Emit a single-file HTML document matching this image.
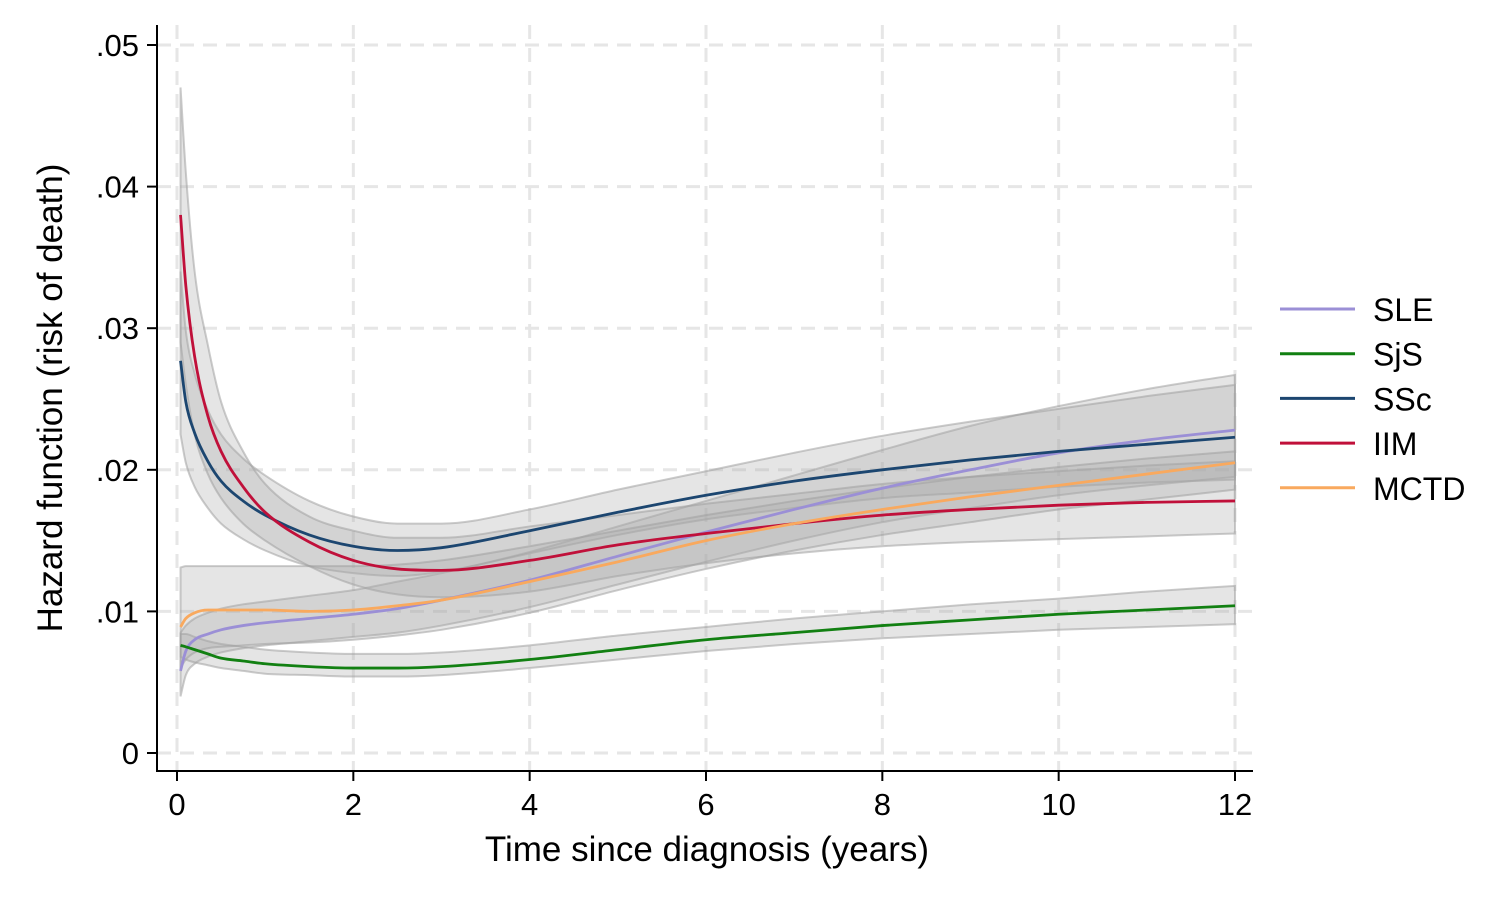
<!DOCTYPE html>
<html><head><meta charset="utf-8">
<style>
html,body{margin:0;padding:0;background:#fff;}
svg{display:block;font-family:"Liberation Sans",Arial,sans-serif;}
</style></head>
<body>
<svg id="chart" width="1486" height="897" viewBox="0 0 1486 897" xmlns="http://www.w3.org/2000/svg">
  <rect x="0" y="0" width="1486" height="897" fill="#fff"/>
  <g id="grid"></g>
  <g id="bands"></g>
  <g id="lines"></g>
  <g id="axes"></g>
  <text x="707" y="861" text-anchor="middle" font-size="35" fill="#000">Time since diagnosis (years)</text>
  <text transform="translate(62,398) rotate(-90)" text-anchor="middle" font-size="35" fill="#000">Hazard function (risk of death)</text>
  <g id="legend"></g>
</svg>
<script>
const xTicks = [0, 2, 4, 6, 8, 10, 12];
const yTicks = [0, 0.01, 0.02, 0.03, 0.04, 0.05];
const yTickLabels = ["0", ".01", ".02", ".03", ".04", ".05"];
const times = [0.04,0.1,0.2,0.35,0.5,0.75,1,1.5,2,2.5,3,4,5,6,7,8,9,10,11,12];
const seriesNames = ["SLE","SjS","SSc","IIM","MCTD"];
const seriesColors = ["#9b8fd6","#128012","#1c4670","#c0103a","#f9a95e"];
const sleHaz = [.0058,.0072,.008,.0084,.0087,.009,.0092,.0095,.0098,.0102,.0108,.0122,.0139,.0156,.0172,.0187,.02,.0212,.0221,.0228];
const sleHi  = [.0085,.009,.0095,.0099,.0102,.0105,.0107,.0111,.0115,.0121,.0127,.0142,.016,.0178,.0196,.0214,.0231,.0245,.0257,.0267];
const sleLo  = [.004,.0055,.0063,.0068,.0071,.0074,.0076,.0079,.0082,.0085,.009,.0103,.0119,.0135,.015,.0163,.0173,.0182,.0189,.0195];
const sjsHaz = [.0076,.0075,.0073,.007,.0067,.0065,.0063,.0061,.006,.006,.0061,.0066,.0073,.008,.0085,.009,.0094,.0098,.0101,.0104];
const sjsHi  = [.0084,.0084,.0082,.0079,.0077,.0075,.0073,.0071,.007,.007,.0071,.0076,.0083,.0089,.0095,.01,.0105,.0109,.0114,.0118];
const sjsLo  = [.0068,.0066,.0064,.0062,.006,.0058,.0056,.0055,.0054,.0054,.0055,.006,.0066,.0072,.0077,.0081,.0084,.0087,.0089,.0091];
const sscHaz = [.0277,.0248,.0226,.0206,.0192,.0178,.0168,.0154,.0146,.0143,.0145,.0157,.017,.0182,.0192,.02,.0207,.0213,.0218,.0223];
const sscHi  = [.034,.0298,.0268,.0242,.0225,.0208,.0196,.0178,.0167,.0162,.0162,.0172,.0186,.0199,.0212,.0224,.0234,.0243,.0252,.026];
const sscLo  = [.0225,.0205,.0188,.0173,.0162,.0151,.0143,.0132,.0127,.0125,.0128,.0141,.0154,.0165,.0173,.018,.0184,.0188,.0191,.0193];
const iimHaz = [.038,.033,.028,.0238,.0213,.0188,.017,.0149,.0136,.013,.0129,.0136,.0147,.0155,.0162,.0168,.0172,.0175,.0177,.0178];
const iimHi  = [.047,.041,.034,.0288,.0248,.0213,.019,.0167,.0157,.0152,.0152,.016,.0168,.0176,.0183,.019,.0195,.0199,.0203,.0206];
const iimLo  = [.029,.026,.0225,.0197,.018,.0162,.015,.0132,.0119,.0112,.011,.0114,.0125,.0134,.0141,.0146,.0149,.0151,.0153,.0155];
const mctdHaz = [.0089,.0095,.0099,.0101,.0101,.0101,.0101,.01,.0101,.0104,.0108,.0121,.0135,.015,.0162,.0172,.0181,.0189,.0197,.0205];
const mctdHi  = [.0131,.0132,.0132,.0132,.0132,.0132,.0132,.0132,.0132,.0133,.0136,.0146,.0157,.0168,.0178,.0187,.0195,.0202,.0208,.0213];
const mctdLo  = [.006,.0066,.0071,.0074,.0075,.0076,.0077,.0078,.008,.0083,.0087,.0099,.0115,.013,.0143,.0154,.0163,.0172,.0179,.0186];

const NS = "http://www.w3.org/2000/svg";
const X0 = 177, X1 = 1235, Y0 = 753, Y1 = 45;
const L = 157, R = 1253, T = 25, B = 771;
function sx(t){ return X0 + (t - 0) / 12 * (X1 - X0); }
function sy(v){ return Y0 - v / 0.05 * (Y0 - Y1); }
function mk(tag, attrs, parent){ const e = document.createElementNS(NS, tag); for (const k in attrs) e.setAttribute(k, attrs[k]); parent.appendChild(e); return e; }

function monoPath(xs, ys, move){
  const n = xs.length, d = [], m = [];
  for (let i=0;i<n-1;i++) d.push((ys[i+1]-ys[i])/(xs[i+1]-xs[i]));
  m[0]=d[0]; m[n-1]=d[n-2];
  for (let i=1;i<n-1;i++){ m[i] = (d[i-1]*d[i] <= 0) ? 0 : (d[i-1]+d[i])/2; }
  for (let i=0;i<n-1;i++){
    if (d[i]===0){ m[i]=0; m[i+1]=0; continue; }
    const a=m[i]/d[i], b=m[i+1]/d[i], s=a*a+b*b;
    if (s>9){ const tt=3/Math.sqrt(s); m[i]=tt*a*d[i]; m[i+1]=tt*b*d[i]; }
  }
  let p = (move ? "M" : "L") + xs[0].toFixed(2) + "," + ys[0].toFixed(2);
  for (let i=0;i<n-1;i++){
    const h = xs[i+1]-xs[i];
    p += " C" + (xs[i]+h/3).toFixed(2) + "," + (ys[i]+m[i]*h/3).toFixed(2) + " " +
         (xs[i+1]-h/3).toFixed(2) + "," + (ys[i+1]-m[i+1]*h/3).toFixed(2) + " " +
         xs[i+1].toFixed(2) + "," + ys[i+1].toFixed(2);
  }
  return p;
}

const grid = document.getElementById("grid");
xTicks.forEach(t => {
  const g = mk("line", {x1:sx(t), x2:sx(t), y1:T, y2:B, stroke:"#e6e6e6", "stroke-width":3, "stroke-dasharray":"14 9"}, grid);
  
  
});
yTicks.forEach(v => {
  const g = mk("line", {x1:L, x2:R, y1:sy(v), y2:sy(v), stroke:"#e6e6e6", "stroke-width":3, "stroke-dasharray":"14 9"}, grid);
  
  
});

const his = [sleHi, sjsHi, sscHi, iimHi, mctdHi];
const los = [sleLo, sjsLo, sscLo, iimLo, mctdLo];
const hazs = [sleHaz, sjsHaz, sscHaz, iimHaz, mctdHaz];
const px = times.map(sx);
const bands = document.getElementById("bands");
for (let k=0;k<5;k++){
  const up = his[k].map(sy), lo = los[k].map(sy);
  const d = monoPath(px, up, true) + " " + monoPath(px.slice().reverse(), lo.slice().reverse(), false) + " Z";
  const b = mk("path", {d:d, fill:"rgba(170,170,170,0.3)", stroke:"rgba(160,160,160,0.55)", "stroke-width":2}, bands);
  
  
}
const lines = document.getElementById("lines");
for (let k=0;k<5;k++){
  const l = mk("path", {d:monoPath(px, hazs[k].map(sy), true), fill:"none", stroke:seriesColors[k], "stroke-width":2.8}, lines);
  
  
}

const axes = document.getElementById("axes");
const ya = mk("line", {x1:L, x2:L, y1:T, y2:B, stroke:"#000", "stroke-width":2}, axes);


const xa = mk("line", {x1:L-1, x2:R, y1:B, y2:B, stroke:"#000", "stroke-width":2}, axes);


xTicks.forEach(t => {
  const tk = mk("line", {x1:sx(t), x2:sx(t), y1:B, y2:B+10, stroke:"#000", "stroke-width":2}, axes);
  
  
  const tx = mk("text", {x:sx(t), y:B+44, "text-anchor":"middle", "font-size":31, fill:"#000"}, axes);
  tx.textContent = String(t);
  
  
});
yTicks.forEach((v,i) => {
  const tk = mk("line", {x1:L-10, x2:L, y1:sy(v), y2:sy(v), stroke:"#000", "stroke-width":2}, axes);
  
  
  const tx = mk("text", {x:L-18, y:sy(v)+11, "text-anchor":"end", "font-size":31, fill:"#000"}, axes);
  tx.textContent = yTickLabels[i];
  
  
});

const legend = document.getElementById("legend");
for (let k=0;k<5;k++){
  const y = 309 + k*44.7;
  const ln = mk("line", {x1:1280, x2:1355, y1:y, y2:y, stroke:seriesColors[k], "stroke-width":3}, legend);
  
  
  const tx = mk("text", {x:1373, y:y+12, "font-size":32, fill:"#000"}, legend);
  tx.textContent = seriesNames[k];
  
  
}
</script>
</body></html>
